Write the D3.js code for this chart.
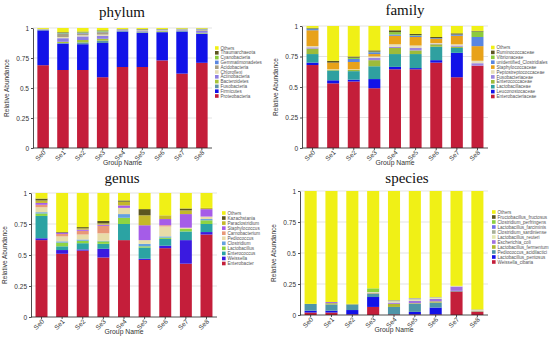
<!DOCTYPE html>
<html>
<head>
<meta charset="utf-8">
<script src="https://cdn.jsdelivr.net/npm/d3@7"></script>
<style>
  body { margin: 0; background: #fff; }
  svg { display: block; font-family: "Liberation Sans", Arial, sans-serif; }
  .title { font-family: "Liberation Serif", "Times New Roman", serif; }
</style>
</head>
<body>
<div id="container"></div>
<script>
// samples and y ticks shared by all four panels
let samples = ["Se0", "Se1", "Se2", "Se3", "Se4", "Se5", "Se6", "Se7", "Se8"];
let yTicks = [0, 0.25, 0.5, 0.75, 1];
let yTickLabels = ["0", "0.25", "0.5", "0.75", "1"];

// taxa are listed bottom-up (stack order), values one per sample
let phylumTaxa = ["Proteobacteria", "Firmicutes", "Fusobacteria", "Bacteroidetes", "Actinobacteria",
  "Chloroflexi", "Acidobacteria", "Gemmatimonadetes", "Cyanobacteria", "Thaumarchaeota", "Others"];
let phylumValues = [
  [0.69, 0.65, 0.65, 0.59, 0.675, 0.675, 0.73, 0.62, 0.71],
  [0.29, 0.22, 0.215, 0.285, 0.295, 0.285, 0.235, 0.35, 0.24],
  [0.003, 0.005, 0.015, 0.02, 0.005, 0.005, 0.005, 0.005, 0.005],
  [0.002, 0.01, 0.02, 0.015, 0.003, 0.005, 0.005, 0.003, 0.005],
  [0.002, 0.03, 0.03, 0.025, 0.005, 0.007, 0.005, 0.005, 0.015],
  [0.001, 0.01, 0.01, 0.01, 0.002, 0.003, 0.003, 0.002, 0.003],
  [0.002, 0.025, 0.015, 0.02, 0.003, 0.005, 0.003, 0.004, 0.01],
  [0.001, 0.005, 0.005, 0.005, 0.001, 0.002, 0.002, 0.002, 0.003],
  [0.001, 0.005, 0.005, 0.005, 0.001, 0.002, 0.002, 0.002, 0.002],
  [0.001, 0.005, 0.005, 0.005, 0.002, 0.003, 0.002, 0.002, 0.002],
  [0.007, 0.035, 0.03, 0.02, 0.008, 0.008, 0.008, 0.005, 0.005]
];

let familyTaxa = ["Enterobacteriaceae", "Leuconostocaceae", "Lactobacillaceae", "Enterococcaceae",
  "Fusobacteriaceae", "Peptostreptococcaceae", "Staphylococcaceae", "unidentified_Clostridiales",
  "Vibrionaceae", "Ruminococcaceae", "Others"];
let familyValues = [
  [0.68, 0.53, 0.545, 0.49, 0.645, 0.645, 0.70, 0.58, 0.675],
  [0.02, 0.025, 0.015, 0.075, 0.02, 0.01, 0.02, 0.20, 0.0],
  [0.07, 0.08, 0.07, 0.105, 0.105, 0.115, 0.11, 0.04, 0.0],
  [0.045, 0.005, 0.01, 0.05, 0.05, 0.03, 0.02, 0.01, 0.0],
  [0.01, 0.0, 0.0, 0.02, 0.01, 0.02, 0.005, 0.01, 0.02],
  [0.01, 0.005, 0.005, 0.01, 0.02, 0.02, 0.005, 0.01, 0.02],
  [0.13, 0.055, 0.06, 0.02, 0.07, 0.07, 0.035, 0.07, 0.12],
  [0.01, 0.0, 0.025, 0.015, 0.01, 0.01, 0.005, 0.01, 0.075],
  [0.005, 0.0, 0.01, 0.005, 0.02, 0.005, 0.0, 0.0, 0.045],
  [0.005, 0.015, 0.01, 0.01, 0.015, 0.01, 0.01, 0.01, 0.005],
  [0.015, 0.285, 0.25, 0.2, 0.035, 0.065, 0.09, 0.06, 0.04]
];

let genusTaxa = ["Enterobacter", "Weissella", "Enterococcus", "Lactobacillus", "Clostridium",
  "Pediococcus", "Carnobacterium", "Staphylococcus", "Paraclostridium", "Kazachstania", "Others"];
let genusValues = [
  [0.62, 0.51, 0.535, 0.48, 0.62, 0.46, 0.555, 0.43, 0.665],
  [0.015, 0.03, 0.01, 0.07, 0.0, 0.01, 0.02, 0.19, 0.02],
  [0.18, 0.03, 0.05, 0.04, 0.13, 0.09, 0.055, 0.07, 0.065],
  [0.02, 0.03, 0.02, 0.02, 0.05, 0.01, 0.01, 0.02, 0.03],
  [0.01, 0.01, 0.01, 0.005, 0.03, 0.02, 0.01, 0.0, 0.01],
  [0.04, 0.04, 0.04, 0.06, 0.05, 0.03, 0.08, 0.01, 0.02],
  [0.02, 0.02, 0.03, 0.06, 0.0, 0.0, 0.01, 0.0, 0.0],
  [0.015, 0.01, 0.01, 0.01, 0.02, 0.12, 0.05, 0.11, 0.06],
  [0.02, 0.0, 0.01, 0.01, 0.03, 0.08, 0.03, 0.03, 0.01],
  [0.015, 0.005, 0.01, 0.02, 0.01, 0.05, 0.0, 0.015, 0.0],
  [0.045, 0.315, 0.275, 0.225, 0.06, 0.13, 0.18, 0.125, 0.12]
];

let speciesTaxa = ["Weissella_cibaria", "Lactobacillus_pentosus", "Pediococcus_acidilactici",
  "Lactobacillus_fermentum", "Escherichia_coli", "Lactobacillus_reuteri", "Clostridium_sardiniense",
  "Lactobacillus_farciminis", "Clostridium_perfringens", "Fructobacillus_fructosus", "Others"];
let speciesValues = [
  [0.02, 0.02, 0.005, 0.065, 0.005, 0.005, 0.005, 0.19, 0.025],
  [0.015, 0.015, 0.035, 0.08, 0.0, 0.02, 0.055, 0.0, 0.0],
  [0.055, 0.05, 0.045, 0.025, 0.06, 0.065, 0.04, 0.005, 0.0],
  [0.0, 0.01, 0.005, 0.005, 0.025, 0.005, 0.01, 0.0, 0.005],
  [0.0, 0.01, 0.0, 0.005, 0.01, 0.02, 0.02, 0.035, 0.005],
  [0.0, 0.0, 0.0, 0.005, 0.01, 0.01, 0.01, 0.005, 0.005],
  [0.0, 0.0, 0.0, 0.0, 0.01, 0.005, 0.005, 0.0, 0.005],
  [0.0, 0.0, 0.0, 0.0, 0.0, 0.005, 0.0, 0.0, 0.0],
  [0.0, 0.0, 0.0, 0.03, 0.0, 0.0, 0.0, 0.0, 0.0],
  [0.0, 0.0, 0.0, 0.0, 0.0, 0.0, 0.0, 0.0, 0.0],
  [0.91, 0.895, 0.91, 0.785, 0.88, 0.865, 0.855, 0.765, 0.955]
];

// colours, bottom-up like the taxa
let phylumColors = ["#C41E3A", "#1212E8", "#5F93A8", "#A8C43A", "#8E7FE0", "#E4DCB4",
  "#A89F84", "#5A86E0", "#8CCB3C", "#5B5520", "#F0F016"];
let familyColors = ["#C41E3A", "#1212E8", "#2FA0A0", "#9DBB3A", "#9B86E0", "#E6DFB8",
  "#E8A21A", "#5A86E0", "#8CCB3C", "#5B5520", "#F0F016"];
let genusColors = ["#C41E3A", "#3A1AE0", "#2BA3A3", "#8ED442", "#64A0E0", "#E8DCA8",
  "#E89878", "#A55CE8", "#C4B82A", "#5B5520", "#F0F016"];
let speciesColors = ["#C41E3A", "#1212E8", "#4F95A8", "#B0B830", "#A070E0", "#E2E6B0",
  "#A8B098", "#7070E8", "#8CD040", "#5B5520", "#F0F016"];

let width = 550;
let height = 340;

let svg = d3.select("#container")
  .append("svg")
  .attr("width", width)
  .attr("height", height);

function drawPanel(opt) {
  let g = svg.append("g");

  let x = d3.scaleBand()
    .domain(samples)
    .range([opt.x0, opt.x1])
    .paddingInner(0.42)
    .paddingOuter(0.22);

  let y = d3.scaleLinear()
    .domain([0, 1])
    .range([opt.yBottom, opt.yTop]);

  //grid lines
  g.selectAll(".grid")
    .data(yTicks.slice(1))
    .enter()
    .append("line")
    .attr("x1", opt.x0)
    .attr("x2", opt.x1)
    .attr("y1", d => y(d))
    .attr("y2", d => y(d))
    .attr("stroke", "#dcdcdc")
    .attr("stroke-width", 0.8);

  // one row per sample, keyed by taxon
  let rows = samples.map((s, i) => {
    let row = { sample: s };
    opt.taxa.forEach((t, k) => { row[t] = opt.values[k][i]; });
    return row;
  });
  let stacked = d3.stack().keys(opt.taxa)(rows);
  let color = d3.scaleOrdinal().domain(opt.taxa).range(opt.colors);

  g.selectAll(".layer")
    .data(stacked)
    .enter()
    .append("g")
    .attr("fill", d => color(d.key))
    .selectAll("rect")
    .data(d => d)
    .enter()
    .append("rect")
    .attr("x", d => x(d.data.sample))
    .attr("width", x.bandwidth())
    .attr("y", d => y(Math.min(d[1], 1)))
    .attr("height", d => Math.max(0, y(d[0]) - y(Math.min(d[1], 1))));

  //axes
  let yAxis = g.append("g")
    .attr("transform", `translate(${opt.x0},0)`)
    .call(d3.axisLeft(y).tickValues(yTicks).tickFormat((d, i) => yTickLabels[i]).tickSize(2).tickSizeOuter(0));
  yAxis.selectAll("text").attr("font-size", 6.5).attr("fill", "#333").attr("dx", 1);

  let xAxis = g.append("g")
    .attr("transform", `translate(0,${opt.yBottom})`)
    .call(d3.axisBottom(x).tickSize(2).tickSizeOuter(0));
  xAxis.select(".domain").attr("d", `M${opt.x0},0H${opt.x1}`);
  xAxis.selectAll("text")
    .attr("font-size", 6.5)
    .attr("fill", "#333")
    .attr("text-anchor", "end")
    .attr("x", 0)
    .attr("y", 0)
    .attr("dy", 0)
    .attr("transform", "translate(3,5) rotate(-45)");
  g.selectAll(".domain, .tick line").attr("stroke", "#222").attr("stroke-width", 0.8);

  //labels
  g.append("text")
    .attr("class", "title")
    .attr("x", opt.titleX)
    .attr("y", opt.titleY)
    .attr("text-anchor", "middle")
    .attr("font-size", 15)
    .attr("fill", "#111")
    .text(opt.title);

  g.append("text")
    .attr("x", (opt.x0 + opt.x1) / 2)
    .attr("y", opt.yBottom + 17)
    .attr("text-anchor", "middle")
    .attr("font-size", 6.8)
    .attr("fill", "#333")
    .text("Group Name");

  g.append("text")
    .attr("transform", `translate(${opt.x0 - 24},${(opt.yTop + opt.yBottom) / 2}) rotate(-90)`)
    .attr("text-anchor", "middle")
    .attr("font-size", 6.5)
    .attr("fill", "#333")
    .text("Relative Abundance");

  //legend, Others on top
  let legend = g.selectAll(".legend")
    .data(opt.taxa.slice().reverse())
    .enter()
    .append("g")
    .attr("transform", (d, i) => `translate(${opt.legX},${opt.legY + i * opt.legStep})`);
  legend.append("rect")
    .attr("x", 0)
    .attr("y", -1.8)
    .attr("width", 3.6)
    .attr("height", 3.6)
    .attr("fill", d => color(d));
  legend.append("text")
    .attr("x", 5.5)
    .attr("y", 1.6)
    .attr("font-size", 4.6)
    .attr("fill", "#555")
    .text(d => d);
}

drawPanel({ title: "phylum", taxa: phylumTaxa, values: phylumValues, colors: phylumColors,
  x0: 33, x1: 212, yTop: 28, yBottom: 148, titleX: 122, titleY: 17,
  legX: 215, legY: 48, legStep: 4.8 });
drawPanel({ title: "family", taxa: familyTaxa, values: familyValues, colors: familyColors,
  x0: 302, x1: 488, yTop: 26, yBottom: 148, titleX: 405, titleY: 15,
  legX: 491, legY: 47.5, legStep: 4.9 });
drawPanel({ title: "genus", taxa: genusTaxa, values: genusValues, colors: genusColors,
  x0: 31, x1: 217, yTop: 193, yBottom: 317, titleX: 122, titleY: 183,
  legX: 222, legY: 213, legStep: 5.05 });
drawPanel({ title: "species", taxa: speciesTaxa, values: speciesValues, colors: speciesColors,
  x0: 300, x1: 488, yTop: 191, yBottom: 315, titleX: 407, titleY: 183,
  legX: 492, legY: 212, legStep: 5.0 });
</script>
</body>
</html>
